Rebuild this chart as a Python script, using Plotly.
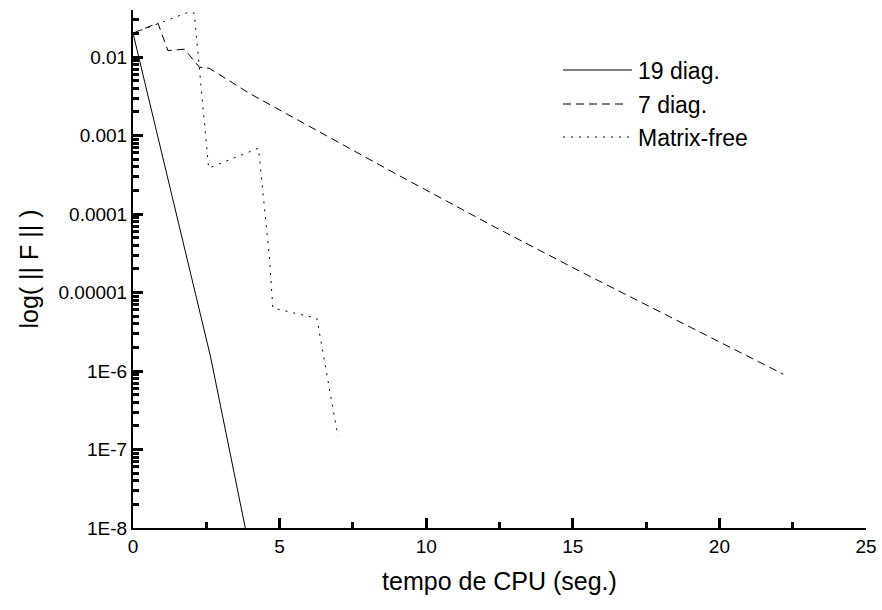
import plotly.graph_objects as go

# ---- data ----
t_19diag = [0.0, 2.64, 3.83]
f_19diag = [0.0202, 1.55e-6, 1.0e-8]

t_7diag = [0.0, 0.85, 1.19, 1.76, 2.26, 2.6, 4.0, 5.5, 7.41, 9.0, 11.2, 12.35, 15.25, 18.0, 20.5, 22.18]
f_7diag = [0.0202, 0.0271, 0.0121, 0.0126, 0.00746, 0.0072, 0.0034, 0.00167, 0.00068, 0.00032,
           0.000116, 0.000068, 0.0000186, 0.0000056, 0.0000019, 0.00000091]

t_mf = [0.0, 1.95, 2.09, 2.58, 4.28, 4.65, 4.77, 6.27, 6.99]
f_mf = [0.0202, 0.038, 0.036, 0.000385, 0.00069, 0.0000288, 0.00000635, 0.0000047, 0.000000147]

names = ["19 diag.", "7 diag.", "Matrix-free"]
dashes = ["solid", "8px,5px", "2px,6px"]

ytick_vals = [1e-8, 1e-7, 1e-6, 1e-5, 1e-4, 1e-3, 1e-2]
ytick_text = ["1E-8", "1E-7", "1E-6", "0.00001", "0.0001", "0.001", "0.01"]
yminor_vals = [k * 10.0 ** e for e in range(-8, -1) for k in range(2, 10)]

FONT = "Liberation Sans, Arial, sans-serif"

fig = go.Figure()
for t, f, nm, ds in zip([t_19diag, t_7diag, t_mf], [f_19diag, f_7diag, f_mf], names, dashes):
    fig.add_trace(go.Scatter(x=t, y=f, mode="lines", name=nm,
                             line=dict(color="black", width=1, dash=ds),
                             showlegend=False))

# manual legend (paper coordinates)
L, R, T, B = 133, 866, 10, 528
def px(x):
    return (x - L) / (R - L)
def py(y):
    return (B - y) / (B - T)

leg_y = [70, 104, 137]
leg_x1 = [632, 623, 631]
for nm, ds, yy, x1 in zip(names, dashes, leg_y, leg_x1):
    fig.add_shape(type="line", xref="paper", yref="paper",
                  x0=px(563), x1=px(x1), y0=py(yy), y1=py(yy),
                  line=dict(color="black", width=1, dash=ds))
    fig.add_annotation(xref="paper", yref="paper", x=px(636), y=py(yy + 1),
                       text=nm, showarrow=False, xanchor="left", yanchor="middle",
                       font=dict(family=FONT, size=23, color="black"))

fig.update_layout(
    width=882, height=610,
    margin=dict(l=133, r=16, t=10, b=82, autoexpand=False),
    paper_bgcolor="white", plot_bgcolor="white",
    font=dict(family=FONT, color="black"),
    showlegend=False,
)
fig.update_xaxes(
    range=[0, 25], tickmode="array", tickvals=[0, 5, 10, 15, 20, 25], automargin=False,
    showgrid=False, zeroline=False, showline=True, linecolor="black", linewidth=2,
    ticks="inside", ticklen=10, tickwidth=3, tickcolor="black",
    minor=dict(ticks="inside", ticklen=6, tickwidth=3, tickcolor="black", dtick=2.5, showgrid=False),
    tickfont=dict(family=FONT, size=19, color="black"),
    title=dict(text="tempo de CPU (seg.)", font=dict(family=FONT, size=25, color="black"), standoff=17),
)
fig.update_yaxes(
    type="log", range=[-8, -1.4], tickmode="array", tickvals=ytick_vals, ticktext=ytick_text,
    automargin=False,
    showgrid=False, zeroline=False, showline=True, linecolor="black", linewidth=2,
    ticks="inside", ticklen=10, tickwidth=3, tickcolor="black",
    minor=dict(ticks="inside", ticklen=6, tickwidth=3, tickcolor="black", tickvals=yminor_vals, showgrid=False),
    tickfont=dict(family=FONT, size=19, color="black"),
    title=dict(text="log( || F || )", font=dict(family=FONT, size=25, color="black"), standoff=13),
)

fig.write_html("out.html")
